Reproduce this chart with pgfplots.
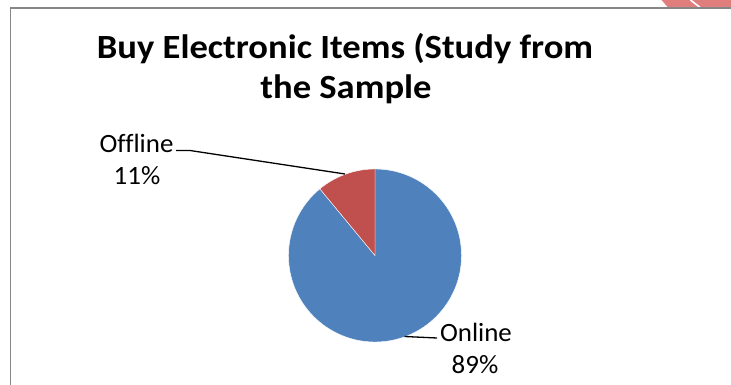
\documentclass[border=0pt]{standalone}
\usepackage{pgfplots}
\pgfplotsset{compat=1.18}
\usepackage{pgfplotstable}
\usepackage{fontspec}
\setmainfont{Carlito}[Ligatures=NoCommon]

\definecolor{pieblue}{HTML}{4F81BD}
\definecolor{piered}{HTML}{C0504D}
\definecolor{framegray}{RGB}{134,134,134}
\definecolor{ribbon}{RGB}{224,125,125}

\tikzset{
  lbl/.style={anchor=base, inner sep=0pt, xscale=1.02, font=\fontsize{26.5}{32}\selectfont},
  ttl/.style={anchor=base, inner sep=0pt, xscale=1.08, font=\bfseries\fontsize{34}{41}\selectfont},
}

% share of respondents by purchase channel (percent)
\pgfplotstableread{
label value
Online 89
Offline 11
}\piedata

\begin{document}
\begin{tikzpicture}
\pgfplotstablegetelem{0}{value}\of\piedata\let\vOnline\pgfplotsretval
\pgfplotstablegetelem{1}{value}\of\piedata\let\vOffline\pgfplotsretval
% slices run clockwise from twelve o'clock
\pgfmathsetmacro\splitAngle{90-360*(\vOnline/(\vOnline+\vOffline))}
\useasboundingbox (0,0) rectangle (731bp,385bp);
\begin{axis}[
  x=1bp, y=1bp, xmin=0, xmax=731, ymin=0, ymax=385,
  scale only axis, hide axis, clip=false,
  anchor=origin, at={(0,0)},
]
% corner decoration and chart frame
\fill[ribbon] (axis cs:661.5,385) -- (axis cs:731,385) -- (axis cs:731,377.6) -- (axis cs:668,377.6) -- cycle;
\draw[white, line width=1.6bp] (axis cs:690.5,385) -- (axis cs:700,377.6);
\draw[framegray, line width=1.3bp] (axis cs:10.5,0) -- (axis cs:10.5,377) -- (axis cs:731,377);

% pie slices
\filldraw[fill=pieblue, draw=white, line width=0.4bp]
  (axis cs:375,129.5) -- ++(90:86.5bp)
  arc[start angle=90, end angle=\splitAngle, radius=86.5bp] -- cycle;
\filldraw[fill=piered, draw=white, line width=0.4bp]
  (axis cs:375,129.5) -- ++(\splitAngle:86.5bp)
  arc[start angle=\splitAngle, end angle=-270, radius=86.5bp] -- cycle;

% leader lines
\draw[black, line width=1.3bp] (axis cs:176,234.5) -- (axis cs:190,234.5) -- (axis cs:345,211);
\draw[black, line width=1.3bp] (axis cs:404.5,48.5) -- (axis cs:437,47);

% data labels
\node[lbl] at (axis cs:136.5,233) {Offline};
\node[lbl] at (axis cs:137,201) {\vOffline\%};
\node[lbl] at (axis cs:476,44) {Online};
\node[lbl] at (axis cs:475,12) {\vOnline\%};

% title
\node[ttl] at (axis cs:345,327) {Buy Electronic Items (Study from};
\node[ttl] at (axis cs:346,287) {the Sample};
\end{axis}
\end{tikzpicture}
\end{document}
